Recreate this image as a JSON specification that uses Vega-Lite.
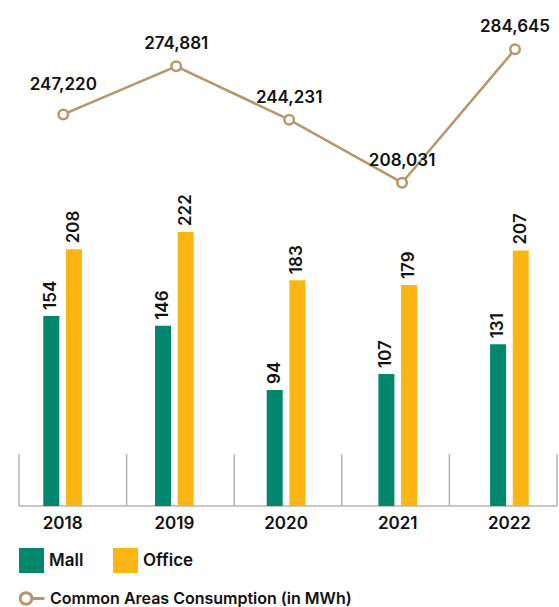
{
  "$schema": "https://vega.github.io/schema/vega-lite/v6.json",
  "width": 559,
  "height": 506,
  "autosize": {"type": "none"},
  "padding": {"left": 0, "top": 0, "right": 0, "bottom": 101},
  "background": "white",
  "config": {
    "view": {"stroke": null},
    "font": "Inter",
    "text": {"font": "Inter"},
    "legend": {"labelFont": "Inter", "labelColor": "#111111", "labelFontWeight": 600, "padding": 0, "titlePadding": 0, "labelLimit": 0}
  },
  "datasets": {
    "bars": [
      {"year": "2018", "type": "Mall", "value": 154},
      {"year": "2018", "type": "Office", "value": 208},
      {"year": "2019", "type": "Mall", "value": 146},
      {"year": "2019", "type": "Office", "value": 222},
      {"year": "2020", "type": "Mall", "value": 94},
      {"year": "2020", "type": "Office", "value": 183},
      {"year": "2021", "type": "Mall", "value": 107},
      {"year": "2021", "type": "Office", "value": 179},
      {"year": "2022", "type": "Mall", "value": 131},
      {"year": "2022", "type": "Office", "value": 207}
    ],
    "line": [
      {"year": "2018", "series": "Common Areas Consumption (in MWh)", "mwh": 247220},
      {"year": "2019", "series": "Common Areas Consumption (in MWh)", "mwh": 274881},
      {"year": "2020", "series": "Common Areas Consumption (in MWh)", "mwh": 244231},
      {"year": "2021", "series": "Common Areas Consumption (in MWh)", "mwh": 208031},
      {"year": "2022", "series": "Common Areas Consumption (in MWh)", "mwh": 284645}
    ],
    "bounds": [
      {"b": 0}, {"b": 1}, {"b": 2}, {"b": 3}, {"b": 4}, {"b": 5}
    ]
  },
  "layer": [
    {
      "data": {"name": "bounds"},
      "layer": [
        {
          "mark": {"type": "rule", "color": "#b5b5b5", "strokeWidth": 1.5},
          "encoding": {
            "x": {"field": "b", "type": "quantitative", "scale": {"domain": [0, 5], "range": [19, 557], "nice": false, "zero": false}, "axis": null},
            "y": {"datum": 0, "type": "quantitative", "scale": {"domain": [0, 410], "nice": false}, "axis": null},
            "y2": {"datum": 42}
          }
        },
        {
          "mark": {"type": "rule", "color": "#b5b5b5", "strokeWidth": 1.5},
          "encoding": {
            "x": {"aggregate": "min", "field": "b", "type": "quantitative", "scale": {"domain": [0, 5], "range": [19, 557], "nice": false, "zero": false}, "axis": null},
            "x2": {"aggregate": "max", "field": "b"},
            "y": {"datum": 0, "type": "quantitative", "scale": {"domain": [0, 410], "nice": false}, "axis": null}
          }
        }
      ]
    },
    {
      "data": {"name": "bars"},
      "encoding": {
        "x": {
          "field": "year", "type": "nominal",
          "scale": {"type": "band", "range": [43.3, 528.8], "paddingInner": 0.6535, "paddingOuter": 0},
          "axis": {"title": null, "domain": false, "ticks": false, "labelAngle": 0, "labelFont": "Inter", "labelFontSize": 17, "labelFontWeight": 600, "labelColor": "#111111", "labelPadding": 9}
        },
        "xOffset": {"field": "type", "type": "nominal", "scale": {"paddingInner": 0.295, "paddingOuter": 0}},
        "y": {"field": "value", "type": "quantitative", "scale": {"domain": [0, 410], "nice": false}, "axis": null}
      },
      "layer": [
        {
          "mark": {"type": "bar"},
          "encoding": {
            "color": {
              "field": "type", "type": "nominal",
              "scale": {"domain": ["Mall", "Office"], "range": ["#00876C", "#FBB616"]},
              "legend": {"orient": "none", "legendX": 19, "legendY": 548, "direction": "horizontal", "title": null, "symbolType": "square", "symbolSize": 625, "symbolStrokeWidth": 0, "symbolOpacity": 1, "labelOffset": 5, "columnPadding": 29, "labelFontSize": 17}
            }
          }
        },
        {
          "mark": {"type": "text", "angle": 270, "align": "left", "baseline": "middle", "dx": 6, "fontSize": 17, "fontWeight": 600, "color": "#111111"},
          "encoding": {"text": {"field": "value", "type": "quantitative"}}
        }
      ]
    },
    {
      "data": {"name": "line"},
      "encoding": {
        "x": {"field": "year", "type": "nominal", "scale": {"type": "point", "range": [63.3, 515], "padding": 0}, "axis": null},
        "y": {"field": "mwh", "type": "quantitative", "scale": {"domain": [22355, 312956], "nice": false, "zero": false}, "axis": null}
      },
      "layer": [
        {
          "mark": {"type": "line", "strokeWidth": 2.5},
          "encoding": {
            "stroke": {
              "field": "series", "type": "nominal",
              "scale": {"range": ["#B8966A"]},
              "legend": {"orient": "none", "legendX": 17, "legendY": 584, "title": null, "symbolType": "M 0.03 0 A 0.45 0.45 0 1 1 -0.87 0 A 0.45 0.45 0 1 1 0.03 0 M 0.03 0 L 1 0", "symbolSize": 676, "symbolStrokeWidth": 3, "symbolFillColor": "white", "labelOffset": 4, "labelFontSize": 16}
            }
          }
        },
        {
          "mark": {"type": "point", "shape": "circle", "filled": true, "fill": "white", "stroke": "#B8966A", "strokeWidth": 2.5, "size": 90, "opacity": 1}
        },
        {
          "transform": [{"filter": "datum.year !== '2018'"}],
          "mark": {"type": "text", "dy": -22, "baseline": "middle", "align": "center", "fontSize": 17, "fontWeight": 600, "color": "#111111"},
          "encoding": {"text": {"field": "mwh", "type": "quantitative", "format": ",d"}}
        },
        {
          "transform": [{"filter": "datum.year === '2018'"}],
          "mark": {"type": "text", "dy": -29, "baseline": "middle", "align": "center", "fontSize": 17, "fontWeight": 600, "color": "#111111"},
          "encoding": {"text": {"field": "mwh", "type": "quantitative", "format": ",d"}}
        }
      ]
    }
  ],
  "resolve": {"scale": {"x": "independent", "y": "independent"}}
}
